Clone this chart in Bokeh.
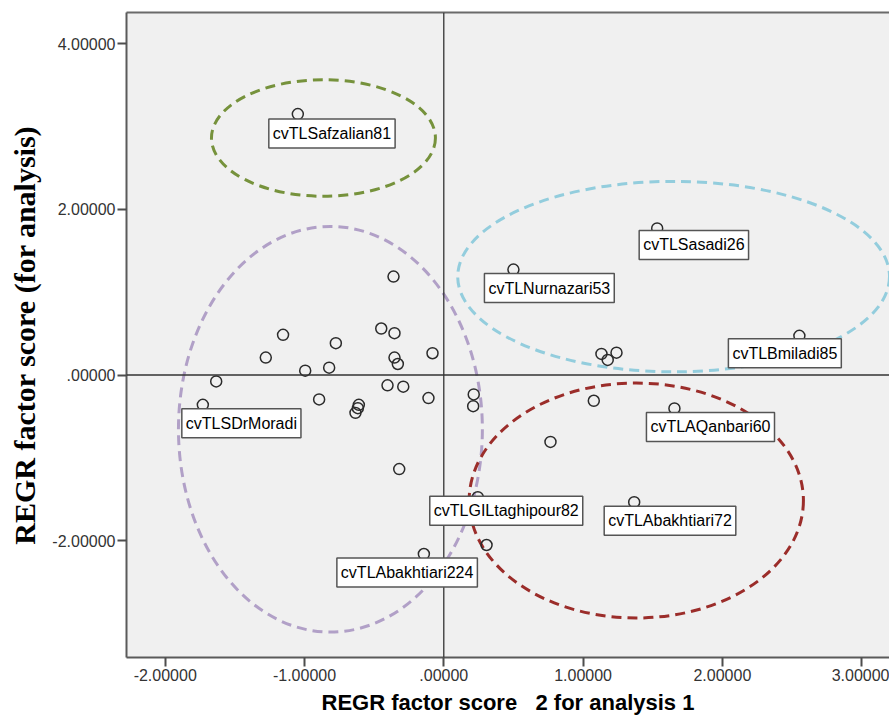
from bokeh.plotting import figure
from bokeh.models import (Label, Span, FixedTicker, CustomJSTickFormatter,
                          LinearAxis, Range1d)
from bokeh.embed import file_html
from bokeh.resources import INLINE

# ---- data ----
pt_x = [-1.048, -0.361, -0.449, -0.354, -1.154, -0.775, -1.278, -0.354, -0.330, -0.081,
        -0.995, -0.823, -1.634, -0.404, -0.291, -1.730, -0.895, -0.110, -0.610, -0.617,
        -0.634, -0.320, 0.215, 0.211, 0.500, 1.532, 1.132, 1.177, 1.240, 2.553,
        1.077, 1.656, 0.766, 1.367, 0.244, 0.307, -0.143]
pt_y = [3.150, 1.188, 0.561, 0.505, 0.485, 0.384, 0.210, 0.210, 0.133, 0.263,
        0.052, 0.089, -0.077, -0.125, -0.141, -0.360, -0.295, -0.279, -0.360, -0.400,
        -0.457, -1.136, -0.234, -0.376, 1.273, 1.770, 0.255, 0.182, 0.270, 0.473,
        -0.311, -0.404, -0.808, -1.535, -1.475, -2.052, -2.161]

lab_names = ["cvTLSafzalian81", "cvTLSDrMoradi", "cvTLNurnazari53", "cvTLSasadi26",
             "cvTLBmiladi85", "cvTLAQanbari60", "cvTLAbakhtiari72", "cvTLGILtaghipour82",
             "cvTLAbakhtiari224"]
lab_x = [-1.048, -1.730, 0.500, 1.532, 2.553, 1.656, 1.367, 0.244, -0.143]
lab_y = [3.150, -0.360, 1.273, 1.770, 0.473, -0.404, -1.535, -1.475, -2.161]
# label box placement relative to its point (pixels)
lab_dx = [-29, -21, -29, -18, -71, -28, -30, -48, -87]
lab_dy = [8, 7, 7, 5, 6, 7, 7, 2, 7]

ell_x = [-0.864, -0.814, 1.650, 1.382]
ell_y = [2.861, -0.655, 1.188, -1.515]
ell_w = [1.608, 2.182, 3.100, 2.400]
ell_h = [1.406, 4.897, 2.300, 2.836]
ell_color = ["#76923C", "#B1A0C7", "#93CDDD", "#9B2D2A"]

x_ticks = [-2, -1, 0, 1, 2, 3]
y_ticks = [-2, 0, 2, 4]

x_title = "REGR factor score\u00a0\u00a0 2 for analysis 1"
y_title = "REGR factor score (for analysis)"

# ---- figure ----
p = figure(width=889, height=717, output_backend="svg", toolbar_location=None,
           x_range=Range1d(-2.278, 3.20), y_range=Range1d(-3.41, 4.376),
           min_border_left=126, min_border_right=0, min_border_top=12, min_border_bottom=48)
p.background_fill_color = "#F0F0F0"
p.border_fill_color = "white"
p.outline_line_color = None
p.grid.visible = False

fmt = CustomJSTickFormatter(code="""
let s = tick.toFixed(5);
if (s.startsWith('0.')) { s = s.slice(1); }
else if (s.startsWith('-0.')) { s = '-' + s.slice(2); }
return s;
""")

for ax, ticks in ((p.xaxis[0], x_ticks), (p.yaxis[0], y_ticks)):
    ax.ticker = FixedTicker(ticks=ticks)
    ax.formatter = fmt
    ax.minor_tick_line_color = None
    ax.major_tick_in = 0
    ax.major_tick_out = 9
    ax.major_tick_line_color = "#4d4d4d"
    ax.major_tick_line_width = 2
    ax.axis_line_color = "#5a5a5a"
    ax.axis_line_width = 2
    ax.major_label_text_font = "Liberation Sans"
    ax.major_label_text_font_size = "16px"
    ax.major_label_text_color = "#333333"
    ax.major_label_standoff = 2

p.xaxis.axis_label = x_title
p.xaxis.axis_label_text_font = "Liberation Sans"
p.xaxis.axis_label_text_font_style = "bold"
p.xaxis.axis_label_text_font_size = "22px"
p.xaxis.axis_label_text_color = "black"
p.xaxis.axis_label_standoff = 6

p.yaxis.axis_label = y_title
p.yaxis.axis_label_text_font = "Liberation Serif"
p.yaxis.axis_label_text_font_style = "bold"
p.yaxis.axis_label_text_font_size = "30px"
p.yaxis.axis_label_text_color = "black"
p.yaxis.axis_label_standoff = 8

top_axis = LinearAxis(ticker=FixedTicker(ticks=[]), axis_line_color="#6a6a6a", axis_line_width=2,
                      major_tick_line_color=None, minor_tick_line_color=None,
                      major_label_text_font_size="0px")
p.add_layout(top_axis, "above")

# zero reference lines
p.add_layout(Span(location=0, dimension="width", line_color="#333333", line_width=1.3))
p.add_layout(Span(location=0, dimension="height", line_color="#333333", line_width=1.3))

# ellipses
p.ellipse(x=ell_x, y=ell_y, width=ell_w, height=ell_h, fill_color=None,
          line_color=ell_color, line_width=3, line_dash="10 6")

# points
p.scatter(x=pt_x, y=pt_y, size=11, marker="circle", fill_color=None,
          line_color="#2b2b2b", line_width=1.5)

# labels
for name, lx, ly, dx, dy in zip(lab_names, lab_x, lab_y, lab_dx, lab_dy):
    p.add_layout(Label(x=lx, y=ly, text=name, x_offset=dx, y_offset=-(dy - 3),
                       text_align="left", text_baseline="top",
                       text_font="Liberation Sans", text_font_size="16px", text_color="black",
                       background_fill_color="white", border_line_color="#555555",
                       border_line_width=1.5,
                       padding=dict(left=4, right=4, top=6, bottom=6)))

open("out.html", "w").write(file_html(p, INLINE))
